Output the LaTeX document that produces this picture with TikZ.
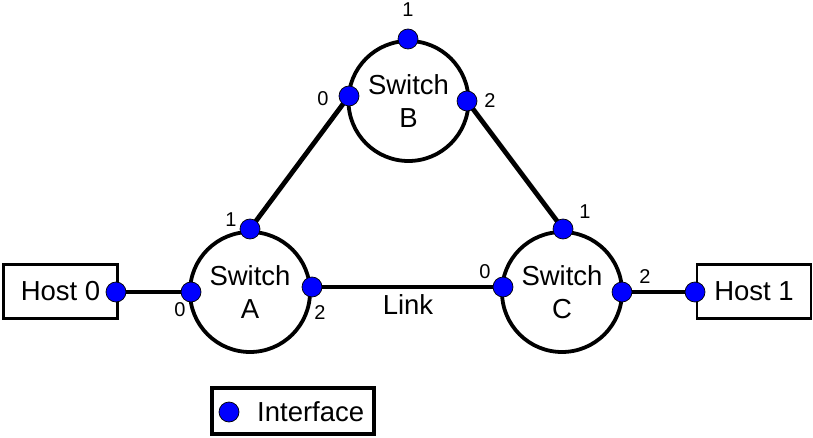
\documentclass[tikz,border=0pt]{standalone}
\usepackage{fontspec}
\setmainfont{Liberation Sans}
\begin{document}
\begin{tikzpicture}[x=1pt,y=-1pt,
  switchnode/.style={circle,draw=black,line width=3.8pt,fill=white,minimum size=120pt,inner sep=0pt,align=center,font=\fontsize{27.5}{33}\selectfont},
  hostnode/.style={rectangle,draw=black,line width=2.4pt,fill=white,minimum width=114pt,minimum height=54pt,inner sep=0pt,font=\fontsize{27.5}{33}\selectfont},
  iface/.style={circle,draw=black,line width=0.7pt,fill=blue,minimum size=20pt,inner sep=0pt},
  link/.style={line width=4.8pt,draw=black},
  portlbl/.style={font=\fontsize{20}{24}\selectfont,inner sep=0pt},
  mainlbl/.style={font=\fontsize{27.5}{33}\selectfont,inner sep=0pt}]
\useasboundingbox (0,0) rectangle (813,438);
% switches and hosts
\node[switchnode] (B) at (408.5,101) {Switch\\B};
\node[switchnode] (A) at (250,292) {Switch\\A};
\node[switchnode] (C) at (562,292) {Switch\\C};
\node[hostnode] (H0) at (60.5,291.5) {Host 0};
\node[hostnode] (H1) at (754,291.5) {Host 1};
% interfaces (coordinates first)
\coordinate (pB1) at (408,39);
\coordinate (pB0) at (349,96);
\coordinate (pB2) at (467,101);
\coordinate (pA1) at (250,229);
\coordinate (pA0) at (191,292);
\coordinate (pA2) at (312,287);
\coordinate (pC1) at (563,229);
\coordinate (pC0) at (503,287);
\coordinate (pC2) at (622,292);
\coordinate (pH0) at (116,292);
\coordinate (pH1) at (695,292);
% links
\draw[link] (pH0) -- (pA0);
\draw[link] (pA2) -- (pC0);
\draw[link] (pA1) -- (pB0);
\draw[link] (pB2) -- (pC1);
\draw[link] (pC2) -- (pH1);
% interface dots
\node[iface] (iB1) at (pB1) {};
\node[iface] (iB0) at (pB0) {};
\node[iface] (iB2) at (pB2) {};
\node[iface] (iA1) at (pA1) {};
\node[iface] (iA0) at (pA0) {};
\node[iface] (iA2) at (pA2) {};
\node[iface] (iC1) at (pC1) {};
\node[iface] (iC0) at (pC0) {};
\node[iface] (iC2) at (pC2) {};
\node[iface] (iH0) at (pH0) {};
\node[iface] (iH1) at (pH1) {};
% port labels
\node[portlbl] (lB1) at (408,10) {1};
\node[portlbl] (lB0) at (323,99) {0};
\node[portlbl] (lB2) at (490,101) {2};
\node[portlbl] (lA1) at (231,220) {1};
\node[portlbl] (lA0) at (180,310) {0};
\node[portlbl] (lA2) at (320,313) {2};
\node[portlbl] (lC1) at (585,212) {1};
\node[portlbl] (lC0) at (485,272) {0};
\node[portlbl] (lC2) at (645,277) {2};
\node[mainlbl] (link) at (408,305) {Link};
% legend
\node[rectangle,draw=black,line width=4.5pt,fill=white,minimum width=162pt,minimum height=46pt,inner sep=0pt] (legend) at (293,411) {};
\node[iface] (legdot) at (229,412) {};
\node[mainlbl,anchor=west] (legtxt) at (257,412) {Interface};
\end{tikzpicture}
\end{document}
